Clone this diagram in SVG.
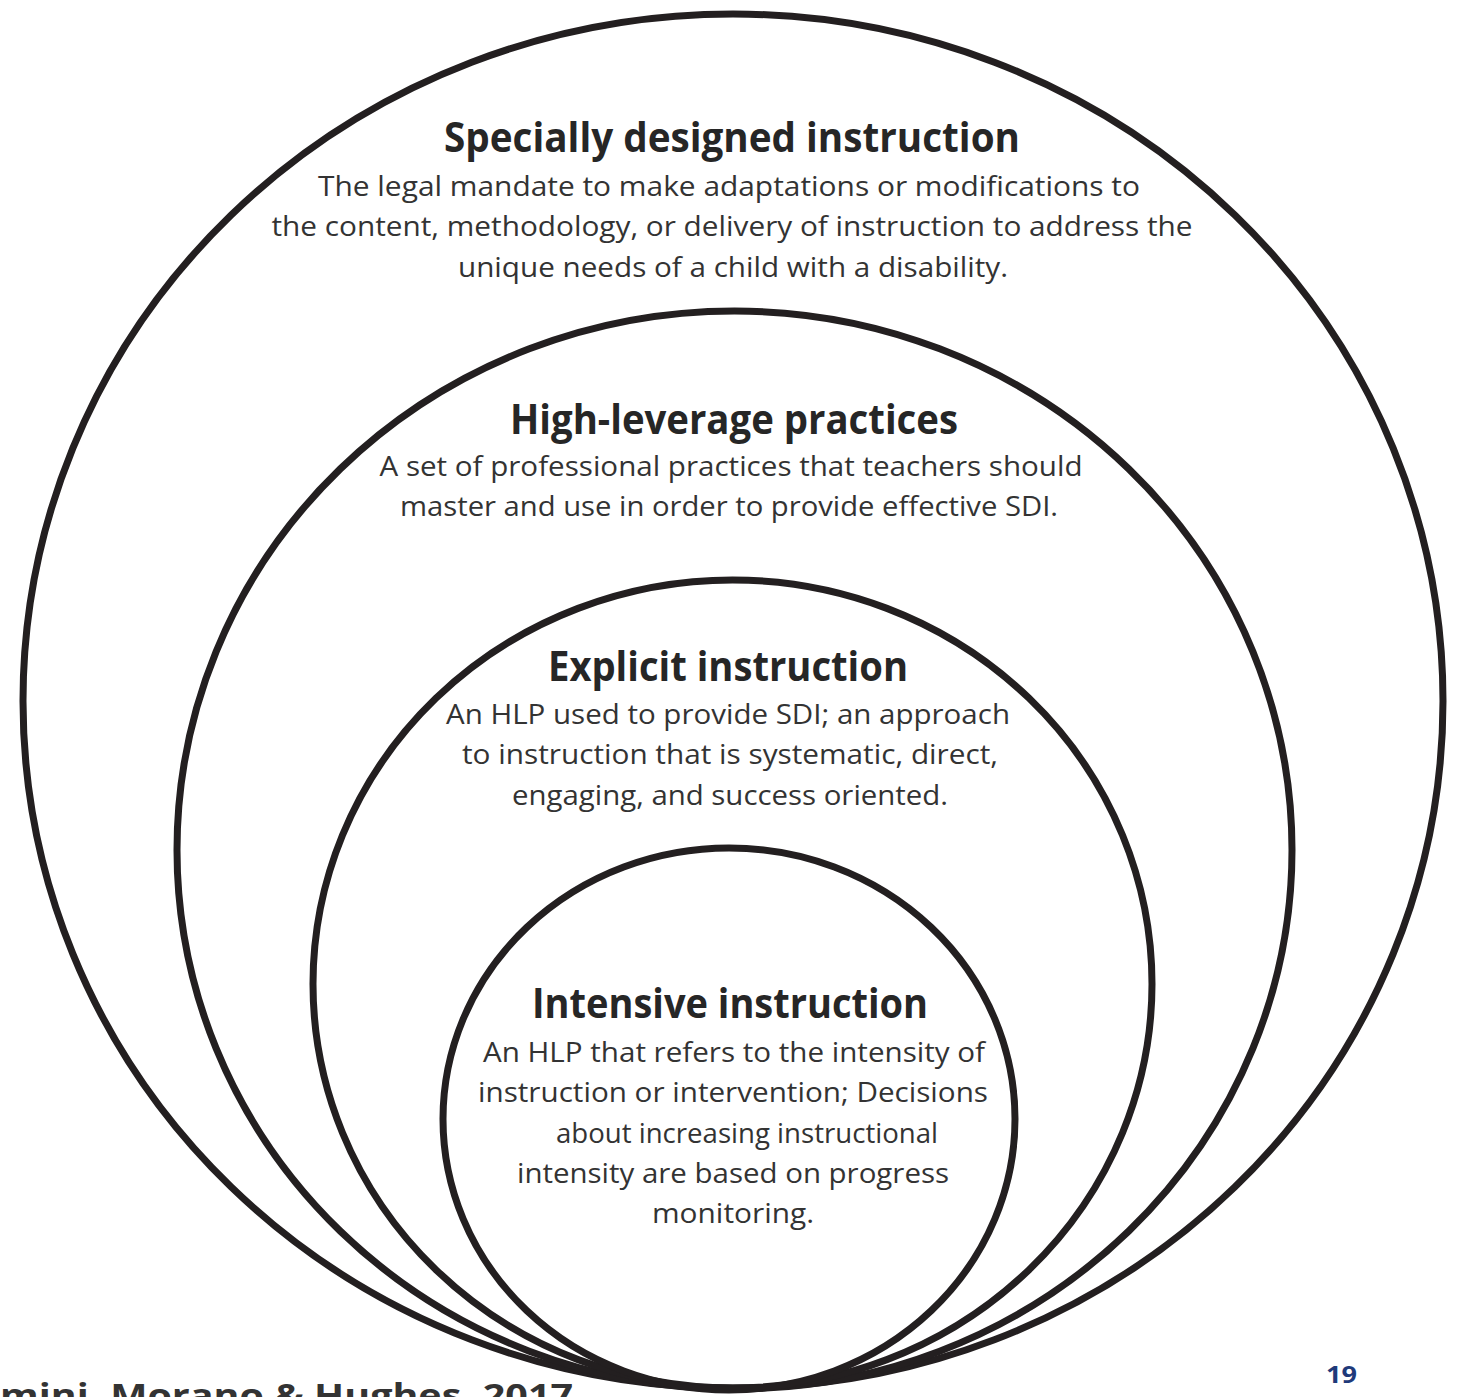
<svg xmlns="http://www.w3.org/2000/svg" width="1460" height="1397" viewBox="0 0 1460 1397">
<style>
.ring{fill:none;stroke:#231f20;stroke-width:7}
.t{font-family:"Open Sans","Liberation Sans",sans-serif;font-weight:bold;font-size:41px;fill:#262626;text-anchor:middle}
.b{font-family:"Open Sans","Liberation Sans",sans-serif;font-size:28px;fill:#333;text-anchor:middle}
.foot{font-family:"Open Sans","Liberation Sans",sans-serif;font-weight:bold;font-size:33px;fill:#333}
.pg{font-family:"Open Sans","Liberation Sans",sans-serif;font-weight:bold;font-size:23px;fill:#1f3a7a}
</style>
<rect width="1460" height="1397" fill="#fff"/>
<g id="sdi">
<ellipse class="ring" cx="733" cy="701" rx="710" ry="687"/>
<text class="t" x="732" y="152" textLength="576" lengthAdjust="spacingAndGlyphs">Specially designed instruction</text>
<text class="b" x="729" y="196" textLength="822" lengthAdjust="spacingAndGlyphs">The legal mandate to make adaptations or modifications to</text>
<text class="b" x="732" y="236" textLength="921" lengthAdjust="spacingAndGlyphs">the content, methodology, or delivery of instruction to address the</text>
<text class="b" x="733" y="277" textLength="550" lengthAdjust="spacingAndGlyphs">unique needs of a child with a disability.</text>
</g>
<g id="hlp">
<ellipse class="ring" cx="734.5" cy="850" rx="557.5" ry="539"/>
<text class="t" x="734" y="434" textLength="448" lengthAdjust="spacingAndGlyphs">High-leverage practices</text>
<text class="b" x="731" y="476" textLength="703" lengthAdjust="spacingAndGlyphs">A set of professional practices that teachers should</text>
<text class="b" x="729" y="516" textLength="658" lengthAdjust="spacingAndGlyphs">master and use in order to provide effective SDI.</text>
</g>
<g id="explicit">
<ellipse class="ring" cx="732.5" cy="984" rx="419.5" ry="404"/>
<text class="t" x="728" y="681" textLength="360" lengthAdjust="spacingAndGlyphs">Explicit instruction</text>
<text class="b" x="728" y="724" textLength="564" lengthAdjust="spacingAndGlyphs">An HLP used to provide SDI; an approach</text>
<text class="b" x="730" y="764" textLength="536" lengthAdjust="spacingAndGlyphs">to instruction that is systematic, direct,</text>
<text class="b" x="730" y="805" textLength="436" lengthAdjust="spacingAndGlyphs">engaging, and success oriented.</text>
</g>
<g id="intensive">
<ellipse class="ring" cx="729" cy="1119" rx="286" ry="271"/>
<text class="t" x="730" y="1018" textLength="396" lengthAdjust="spacingAndGlyphs">Intensive instruction</text>
<text class="b" x="734" y="1062" textLength="502" lengthAdjust="spacingAndGlyphs">An HLP that refers to the intensity of</text>
<text class="b" x="733" y="1102" textLength="510" lengthAdjust="spacingAndGlyphs">instruction or intervention; Decisions</text>
<text class="b" x="747" y="1143" textLength="382" lengthAdjust="spacingAndGlyphs">about increasing instructional</text>
<text class="b" x="733" y="1183" textLength="432" lengthAdjust="spacingAndGlyphs">intensity are based on progress</text>
<text class="b" x="733" y="1223" textLength="162" lengthAdjust="spacingAndGlyphs">monitoring.</text>
</g>
<g id="connectors"></g>
<text class="foot" x="0" y="1407" textLength="573" lengthAdjust="spacingAndGlyphs">mini, Morano &amp; Hughes, 2017</text>
<text class="pg" x="1326" y="1383" textLength="31" lengthAdjust="spacingAndGlyphs">19</text>
</svg>
